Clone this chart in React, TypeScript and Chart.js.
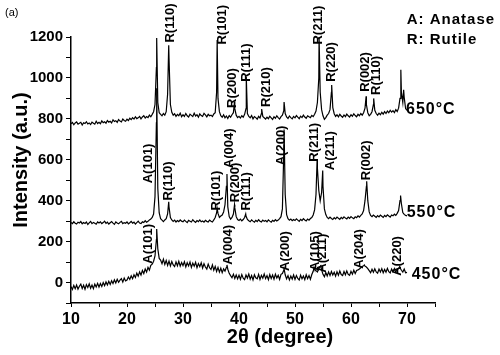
import React, { useEffect, useRef } from "react";
import { Chart, registerables } from "chart.js";

Chart.register(...registerables);

// Sampling grid of the recorded patterns (2θ in degrees)
const gridStart = 10;
const gridStep = 0.25;

// 650 °C pattern, 10° .. 70° every 0.25°
const counts650 = [
  776, 782, 771, 780, 785, 774, 779, 783, 770, 781, 777, 786, 775, 780, 772, 784, 779, 774, 788, 777,
  783, 776, 790, 781, 786, 779, 792, 784, 788, 780, 795, 787, 791, 783, 797, 789, 785, 799, 792, 788,
  798, 792, 803, 796, 806, 799, 810, 801, 805, 812, 800, 809, 815, 804, 811, 806, 818, 810, 822, 835,
  870, 1050, 880, 830, 822, 815, 826, 818, 835, 920, 1100, 870, 832, 818, 825, 812, 822, 815, 828, 810,
  820, 812, 826, 815, 809, 823, 817, 811, 828, 814, 820, 808, 824, 816, 812, 827, 819, 810, 822, 815,
  818, 811, 824, 830, 930, 900, 835, 815, 808, 820, 805, 814, 802, 816, 808, 820, 830, 850, 818, 806,
  812, 804, 815, 808, 822, 850, 826, 812, 805, 816, 800, 811, 806, 798, 812, 804, 826, 812, 805, 799,
  808, 801, 813, 805, 797, 810, 803, 815, 806, 799, 811, 818, 840, 826, 809, 802, 814, 806, 800, 812,
  805, 816, 808, 801, 813, 806, 818, 809, 803, 815, 810, 806, 817, 811, 822, 838, 880, 1000, 930, 845,
  815, 798, 806, 818, 826, 845, 930, 855, 825, 812, 820, 810, 822, 814, 808, 819, 811, 823, 815, 809,
  820, 813, 825, 816, 810, 822, 815, 826, 818, 830, 852, 870, 830, 815, 822, 835, 870, 842, 826, 818,
  828, 820, 832, 823, 835, 826, 838, 830, 842, 833, 840, 831, 845, 836, 852, 900, 930, 880, 905, 850,
  842,
];
const apex650: [number, number][] = [
  [25.3, 1195], [27.45, 1160], [36.1, 1185], [39.2, 885], [41.3, 1005], [44.05, 848],
  [48.05, 882], [54.3, 1200], [56.55, 965], [62.7, 910], [64.05, 900], [68.9, 1040], [69.4, 942],
];

// 550 °C pattern
const counts550 = [
  294, 288, 297, 290, 286, 295, 291, 298, 287, 293, 289, 296, 284, 292, 299, 288, 294, 290, 285, 296,
  291, 297, 288, 293, 300, 289, 295, 286, 292, 298, 290, 284, 296, 291, 287, 294, 299, 288, 293, 290,
  296, 287, 292, 299, 290, 295, 286, 293, 300, 291, 288, 297, 293, 302, 295, 299, 306, 310, 318, 335,
  420, 780, 460, 340, 312, 305, 298, 306, 312, 335, 370, 318, 306, 299, 305, 296, 303, 298, 306, 300,
  297, 305, 299, 293, 304, 300, 296, 307, 299, 294, 303, 298, 306, 297, 301, 295, 304, 299, 296, 305,
  300, 296, 306, 318, 340, 338, 318, 325, 330, 345, 380, 470, 370, 322, 310, 318, 335, 365, 322, 308,
  303, 310, 301, 308, 318, 325, 308, 302, 297, 306, 300, 295, 304, 298, 307, 300, 296, 305, 299, 303,
  297, 306, 300, 295, 304, 299, 307, 301, 305, 312, 322, 360, 640, 430, 332, 312, 305, 310, 302, 308,
  303, 311, 305, 299, 309, 303, 312, 306, 301, 310, 305, 313, 318, 330, 355, 430, 560, 450, 400, 440,
  470, 360, 332, 318, 312, 320, 313, 308, 317, 311, 320, 314, 309, 318, 312, 321, 315, 311, 320, 314,
  322, 316, 312, 321, 317, 326, 320, 328, 335, 352, 400, 470, 400, 345, 328, 322, 330, 324, 318, 327,
  321, 330, 324, 318, 328, 322, 331, 325, 320, 330, 326, 334, 328, 338, 352, 400, 385, 342, 333, 328,
  326,
];
const apex550: [number, number][] = [
  [25.3, 950], [27.45, 395], [36.1, 362], [37.85, 530], [39.2, 380], [41.2, 335],
  [48.05, 748], [53.95, 600], [54.95, 548], [62.8, 495], [68.85, 425],
];

// 450 °C pattern
const counts450 = [
  -20, -34, -14, -30, -12, -32, -18, -8, -29, -13, -33, -10, -24, -6, -28, -12, -30, -8, -22, -4,
  -22, -5, -19, 0, -15, 3, -12, 6, -9, 9, -5, 13, -2, 16, 1, 12, 19, 2, 22, 8,
  12, 27, 15, 33, 19, 38, 25, 46, 31, 52, 37, 59, 44, 66, 51, 74, 61, 84, 90, 104,
  130, 210, 165, 118, 110, 92, 114, 88, 108, 84, 105, 81, 103, 86, 78, 101, 82, 104, 80, 98,
  83, 102, 76, 97, 81, 100, 74, 95, 80, 99, 73, 93, 78, 97, 71, 92, 76, 66, 90, 72,
  64, 86, 60, 79, 54, 74, 51, 70, 48, 67, 56, 74, 65, 45, 34, 24, 41, 20, 37, 18,
  36, 16, 39, 21, 14, 37, 22, 42, 17, 34, 13, 38, 23, 18, 40, 15, 35, 21, 42, 19,
  34, 14, 39, 20, 37, 16, 41, 22, 35, 15, 40, 44, 60, 38, 18, 34, 13, 32, 17, 37,
  15, 34, 20, 12, 36, 18, 32, 14, 38, 19, 34, 16, 39, 55, 66, 58, 52, 68, 78, 62,
  40, 28, 49, 32, 52, 34, 54, 37, 50, 31, 53, 36, 56, 39, 34, 54, 38, 57, 40, 35,
  55, 41, 60, 44, 59, 62, 66, 72, 78, 82, 80, 76, 68, 58, 48, 65, 50, 67, 52, 46,
  66, 51, 68, 48, 64, 50, 69, 53, 47, 66, 52, 68, 51, 64, 68, 72, 60, 51, 66, 48,
  50,
];
const apex450: [number, number][] = [
  [25.3, 262], [37.85, 86], [48.05, 68], [53.4, 74], [54.6, 86], [62.4, 86], [68.7, 78],
];

// Peak annotations: [text, 2θ of text centre, intensity where the text starts]
const peakLabels650: [string, number, number][] = [
  ["R(110)", 27.68, 1173], ["R(101)", 36.96, 1163], ["R(200)", 38.75, 853], ["R(111)", 41.25, 981],
  ["R(210)", 44.82, 858], ["R(211)", 54.1, 1163], ["R(220)", 56.43, 981], ["R(002)", 62.5, 932],
  ["R(110)", 64.46, 917],
];
const peakLabels550: [string, number, number][] = [
  ["A(101)", 23.75, 485], ["R(110)", 27.32, 401], ["R(101)", 36.02, 352], ["A(004)", 38.21, 559],
  ["R(200)", 39.29, 392], ["R(111)", 41.38, 352], ["A(200)", 47.63, 573], ["R(211)", 53.39, 590],
  ["A(211)", 56.25, 549], ["R(002)", 62.8, 500],
];
const peakLabels450: [string, number, number][] = [
  ["A(101)", 23.84, 92], ["A(004)", 38.13, 87], ["A(200)", 48.21, 57], ["A(105)", 53.57, 57],
  ["A(211)", 54.82, 48], ["A(204)", 61.43, 67], ["A(220)", 68.21, 33],
];

// Series names placed at the end of each trace: [text, 2θ, intensity]
const seriesLabels: [string, number, number][] = [
  ["650°C", 69.82, 844], ["550°C", 69.95, 342], ["450°C", 70.84, 41],
];
const phaseKey: [string, number, number][] = [
  ["A: Anatase", 69.95, 1282], ["R: Rutile", 69.95, 1187],
];

const xMin = 10, xMax = 75, xStep = 5, xLabelEvery = 10;
const yMin = -100, yMax = 1200, yStep = 100, yLabelEvery = 200;
const xTitle = "2θ (degree)";
const yTitle = "Intensity (a.u.)";
const panelTag = "(a)";

function buildPoints(grid: number[], apex: [number, number][]) {
  const pts = grid.map((v, i) => ({ x: gridStart + i * gridStep, y: v }));
  apex.forEach(([x, y]) => pts.push({ x, y }));
  pts.sort((a, b) => a.x - b.x);
  return pts;
}

const textPlugin = {
  id: "xrdText",
  afterDraw(chart: any) {
    const ctx = chart.ctx as CanvasRenderingContext2D;
    const xs = chart.scales.x;
    const ys = chart.scales.y;
    ctx.save();
    ctx.fillStyle = "#000";
    ctx.font = 'bold 13px "Liberation Sans", Arial, sans-serif';
    ctx.textAlign = "left";
    ctx.textBaseline = "middle";
    [...peakLabels650, ...peakLabels550, ...peakLabels450].forEach(([t, d, v]) => {
      const px = xs.getPixelForValue(d);
      const py = ys.getPixelForValue(v);
      ctx.save();
      ctx.translate(px, py);
      ctx.rotate(-Math.PI / 2);
      ctx.fillText(t, 0, 0);
      ctx.restore();
    });
    (ctx as any).letterSpacing = "1px";
    ctx.font = 'bold 16px "Liberation Sans", Arial, sans-serif';
    seriesLabels.forEach(([t, d, v]) => {
      ctx.fillText(t, xs.getPixelForValue(d), ys.getPixelForValue(v));
    });
    ctx.font = 'bold 15px "Liberation Sans", Arial, sans-serif';
    phaseKey.forEach(([t, d, v]) => {
      ctx.fillText(t, xs.getPixelForValue(d), ys.getPixelForValue(v));
    });
    (ctx as any).letterSpacing = "0px";
    ctx.font = 'bold 20px "Liberation Sans", Arial, sans-serif';
    ctx.textAlign = "center";
    ctx.fillText(xTitle, (chart.chartArea.left + chart.chartArea.right) / 2 + 27, 337);
    ctx.save();
    ctx.translate(21, 160);
    ctx.rotate(-Math.PI / 2);
    ctx.fillText(yTitle, 0, 0);
    ctx.restore();
    ctx.font = '11px "Liberation Sans", Arial, sans-serif';
    ctx.textAlign = "left";
    ctx.fillText(panelTag, 5, 13);
    ctx.restore();
  },
};

export default function App() {
  const ref = useRef<HTMLCanvasElement | null>(null);
  useEffect(() => {
    if (!ref.current) return;
    const line = (data: { x: number; y: number }[]) => ({
      data,
      borderColor: "#000",
      borderWidth: 1.2,
      pointRadius: 0,
      tension: 0,
      fill: false,
    });
    const chart = new Chart(ref.current, {
      type: "line",
      data: {
        datasets: [
          { label: seriesLabels[0][0], ...line(buildPoints(counts650, apex650)) },
          { label: seriesLabels[1][0], ...line(buildPoints(counts550, apex550)) },
          { label: seriesLabels[2][0], ...line(buildPoints(counts450, apex450)) },
        ],
      },
      options: {
        animation: false,
        responsive: false,
        devicePixelRatio: 1,
        layout: { padding: { left: 0, top: 37, right: 65, bottom: 0 } },
        plugins: { legend: { display: false }, tooltip: { enabled: false } },
        scales: {
          x: {
            type: "linear",
            min: xMin,
            max: xMax,
            afterFit: (s: any) => { s.height = 52; },
            ticks: {
              stepSize: xStep,
              autoSkip: false,
              maxRotation: 0,
              padding: 3,
              color: "#000",
              font: { family: '"Liberation Sans", Arial, sans-serif', size: 16, weight: "bold" },
              callback: (v: any) => (v % xLabelEvery === 0 && v <= 70 ? String(v) : ""),
            },
            grid: { drawOnChartArea: false, drawTicks: true, tickLength: 4, color: "#000", tickColor: "#000" },
            border: { display: true, color: "#000", width: 1.5 },
          },
          y: {
            type: "linear",
            min: yMin,
            max: yMax,
            afterFit: (s: any) => { s.width = 71; },
            ticks: {
              stepSize: yStep,
              autoSkip: false,
              padding: 3,
              color: "#000",
              font: { family: '"Liberation Sans", Arial, sans-serif', size: 15, weight: "bold" },
              callback: (v: any) => (v % yLabelEvery === 0 ? String(v) : ""),
            },
            grid: { drawOnChartArea: false, drawTicks: true, tickLength: 5, color: "#000", tickColor: "#000" },
            border: { display: true, color: "#000", width: 1.5 },
          },
        },
      },
      plugins: [textPlugin],
    });
    return () => chart.destroy();
  }, []);
  return (
    <div style={{ position: "absolute", left: 0, top: 0, width: 500, height: 355, background: "#fff" }}>
      <canvas ref={ref} width={500} height={355} />
    </div>
  );
}
